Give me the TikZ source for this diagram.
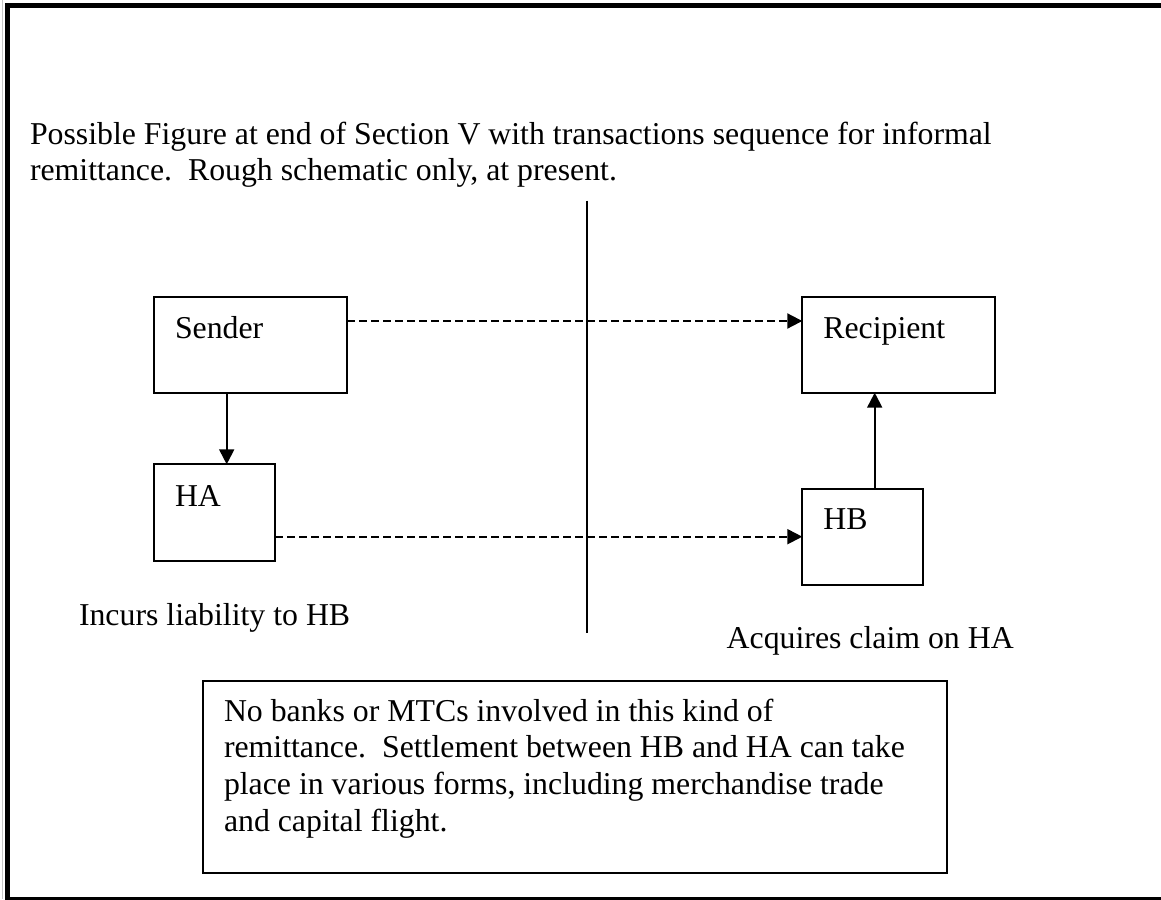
\documentclass[tikz,border=0pt]{standalone}
\usepackage{fontspec}
\setmainfont{Liberation Serif}
\usetikzlibrary{arrows.meta}
\begin{document}
\begin{tikzpicture}[x=1pt,y=-1pt,
  box/.style={draw, line width=2pt, rectangle, inner sep=0pt, outer sep=0pt, anchor=north west},
  txt/.style={anchor=base west, inner sep=0pt, outer sep=0pt, font=\fontsize{31.8}{36}\selectfont},
  flow/.style={line width=2pt, -{Triangle[length=15pt,width=15pt]}},
  dashflow/.style={flow, dash pattern=on 8pt off 4pt}]
\useasboundingbox (0,0) rectangle (1161,899);

% page frame
\draw[gray!45, line width=1pt] (2.5,0) -- (2.5,899);
\draw[line width=5pt] (7.5,5.8) rectangle (1175,899);

% heading
\node[txt] (title1) at (30,144) {Possible Figure at end of Section V with transactions sequence for informal};
\node[txt] (title2) at (30,180.7) {remittance.~~Rough schematic only, at present.};

% dividing line between the two countries
\coordinate (divtop) at (586.7,200.7);
\coordinate (divbot) at (586.7,633.3);
\draw[line width=1.8pt] (divtop) -- (divbot);

% parties
\node[box, minimum width=192.7pt, minimum height=96pt] (sender) at (154.3,296.7) {};
\node[box, minimum width=120.7pt, minimum height=96.4pt] (ha) at (154.3,464.3) {};
\node[box, minimum width=192.7pt, minimum height=96pt] (recipient) at (802.3,296.7) {};
\node[box, minimum width=120.4pt, minimum height=96.3pt] (hb) at (802.3,488.7) {};

\node[txt] (senderlbl) at (175,338.3) {Sender};
\node[txt] (halbl) at (175,506) {HA};
\node[txt] (recipientlbl) at (823.3,338.3) {Recipient};
\node[txt] (hblbl) at (823.3,529.3) {HB};

\node[txt] (incurs) at (79,625) {Incurs liability to HB};
\node[txt] (acquires) at (726.7,648.3) {Acquires claim on HA};

% flows
\coordinate (colA) at (226.7,0);
\coordinate (colB) at (874.7,0);
\coordinate (rowA) at (0,321);
\coordinate (rowB) at (0,536.7);
\draw[flow] (sender.south -| colA) -- (ha.north -| colA);
\draw[flow] (hb.north -| colB) -- (recipient.south -| colB);
\draw[dashflow] (sender.east |- rowA) -- (recipient.west |- rowA);
\draw[dashflow] (ha.east |- rowB) -- (hb.west |- rowB);

% explanatory note
\node[box, minimum width=744.2pt, minimum height=191.5pt] (notebox) at (202.5,681) {};
\node[txt] (note1) at (224,721) {No banks or MTCs involved in this kind of};
\node[txt] (note2) at (224,757.7) {remittance.~~Settlement between HB and HA can take};
\node[txt] (note3) at (224,794.4) {place in various forms, including merchandise trade};
\node[txt] (note4) at (224,831.1) {and capital flight.};
\end{tikzpicture}
\end{document}
